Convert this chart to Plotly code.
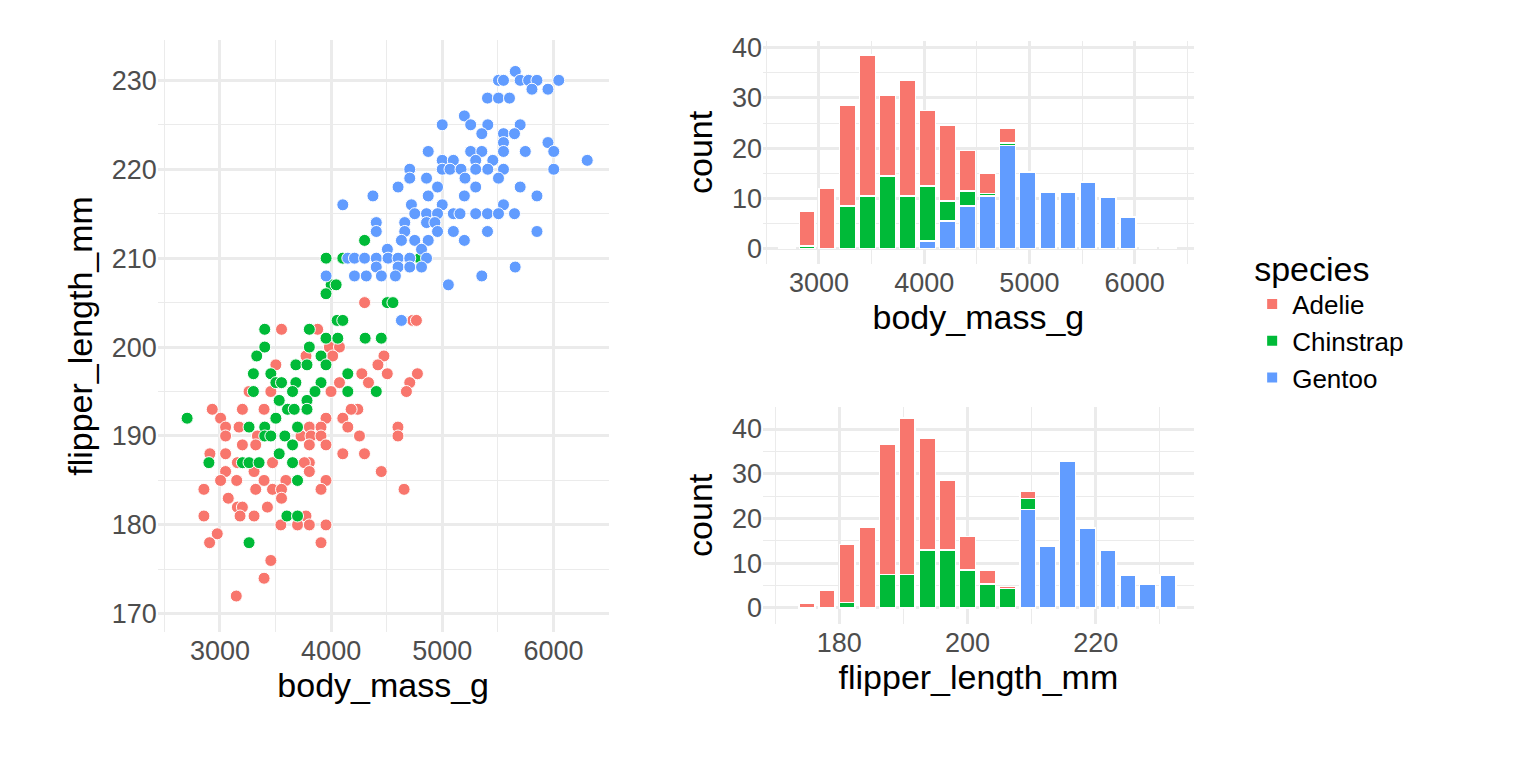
import plotly.graph_objects as go

# 颜色（ggplot 默认配色）
species = ["Adelie", "Chinstrap", "Gentoo"]
colors = {"Adelie": "#F8766D", "Chinstrap": "#00BA38", "Gentoo": "#619CFF"}

# 散点数据：体重 / 鳍长
adelie_mass = [4306, 4734, 3554, 3879, 3984, 4075, 4014, 3503, 3774, 4475, 4421, 4505, 4776, 4276, 4707, 4336,
               4075, 4677, 3999, 3262, 3458, 4240, 4180, 3954, 4105, 3202, 2931, 3006, 3397, 3051, 3172, 3804,
               3909, 4150, 4601, 4601, 4255, 3051, 3337, 3729, 3819, 3909, 3202, 3322, 3804, 3954, 2910, 3051,
               4105, 4300, 3157, 3473, 3804, 3759, 3051, 3307, 3804, 4451, 3006, 3151, 3397, 3593, 3954, 2856,
               3322, 3473, 3554, 3909, 4656, 3075, 3554, 3157, 3202, 3427, 2856, 3181, 3307, 3774, 3548, 3698,
               3804, 3954, 2976, 2907, 3909, 3458, 3397, 3147, 4301, 4767]
adelie_flip = [205, 203, 202, 202, 200, 200, 199, 198, 199, 199, 198, 197, 197, 197, 196, 196,
               196, 195, 195, 195, 195, 193, 193, 192, 192, 193, 193, 192, 193, 191, 191, 191,
               191, 191, 191, 190, 190, 190, 190, 190, 190, 190, 189, 189, 189, 189, 188, 188,
               188, 188, 187, 187, 187, 187, 186, 186, 186, 186, 185, 185, 185, 185, 185, 184,
               184, 184, 184, 184, 184, 183, 183, 182, 182, 182, 181, 181, 181, 181, 180, 180,
               180, 180, 179, 178, 178, 176, 174, 172, 205, 203]
chin_mass = [4000, 3954, 4505, 4556, 4054, 4105, 3403, 3804, 3954, 4060, 4306, 4451, 3403, 3804, 3331, 3909,
             3683, 3783, 3954, 3301, 3458, 4150, 3503, 3554, 3683, 3909, 3301, 3653, 3855, 4150, 4406, 3533,
             3783, 3608, 3668, 3783, 3503, 2705, 3262, 3403, 3698, 3403, 3458, 3584, 3653, 3533, 2901, 3202,
             3262, 3352, 3653, 3698, 3602, 3698, 3262, 4301, 3955, 4105, 4798, 4045]
chin_flip = [207, 206, 205, 205, 203, 203, 202, 202, 201, 201, 201, 201, 200, 200, 199, 199,
             198, 198, 198, 197, 197, 197, 196, 196, 196, 196, 195, 195, 195, 195, 195, 194,
             194, 193, 193, 193, 192, 192, 191, 191, 191, 190, 190, 190, 189, 188, 187, 187,
             187, 187, 187, 185, 181, 181, 178, 212, 210, 210, 210, 207]
gentoo_mass = [5656, 5505, 5550, 5700, 5776, 5851, 6047, 5806, 5950, 5406, 5505, 5604, 5198, 4999, 5255, 5409,
               5700, 5355, 5550, 5649, 5550, 5950, 4873, 5255, 5355, 5550, 5746, 6002, 6303, 4999, 5099, 5300,
               5454, 4707, 4999, 5069, 5168, 5300, 5409, 5550, 6002, 4707, 4858, 5204, 5505, 4602, 4957, 5300,
               5700, 4376, 4873, 5198, 5851, 4105, 4722, 4999, 5550, 4752, 4858, 4957, 5099, 5159, 5300, 5406,
               5505, 5649, 4406, 4662, 4858, 4933, 4406, 4662, 4957, 5099, 5406, 5851, 4632, 4752, 4873, 5198,
               4506, 4813, 4150, 4210, 4301, 4406, 4512, 4602, 4707, 4858, 4406, 4602, 4707, 4813, 5655, 3955,
               4210, 4316, 4452, 4578, 5355, 5054, 4632]
gentoo_flip = [231, 230, 230, 230, 230, 230, 230, 229, 229, 228, 228, 228, 226, 225, 225, 225,
               225, 224, 224, 224, 223, 223, 222, 222, 222, 222, 222, 222, 221, 221, 221, 221,
               221, 220, 220, 220, 220, 220, 220, 220, 220, 219, 219, 219, 219, 218, 218, 218,
               218, 217, 217, 217, 217, 216, 216, 216, 216, 215, 215, 215, 215, 215, 215, 215,
               215, 215, 214, 214, 214, 214, 213, 213, 213, 213, 213, 213, 212, 212, 212, 212,
               211, 211, 210, 210, 210, 210, 210, 210, 210, 210, 209, 209, 209, 209, 209, 208,
               208, 208, 208, 208, 208, 207, 203]

# 直方图：体重分箱中心与各物种计数
mass_bins = [2698, 2889, 3079, 3270, 3460, 3651, 3841, 4032, 4222, 4413,
             4603, 4794, 4984, 5175, 5365, 5556, 5746, 5937, 6127, 6318]
mass_counts = {
    "Gentoo":    [0, 0, 0, 0, 0, 0, 0, 1.5, 5.5, 8.5, 10.5, 20.5, 15.3, 11.3, 11.3, 13.3, 10.3, 6.3, 0.3, 0.3],
    "Chinstrap": [0.3, 0.5, 0, 8.5, 10.5, 14.5, 10.5, 11, 4, 3, 0.5, 0.5, 0, 0, 0, 0, 0, 0, 0, 0],
    "Adelie":    [0, 7, 12, 20, 28, 16, 23, 15, 15, 8, 4, 3, 0, 0, 0, 0, 0, 0, 0, 0],
}

# 直方图：鳍长分箱中心与各物种计数
flip_bins = [175, 178.1, 181.25, 184.4, 187.5, 190.6, 193.75, 196.9, 200, 203.1,
             206.25, 209.4, 212.5, 215.6, 218.75, 221.9, 225, 228.1, 231.25]
flip_counts = {
    "Gentoo":    [0, 0, 0, 0, 0, 0, 0, 0, 0, 0, 0, 22, 13.7, 32.7, 17.9, 12.8, 7.4, 5.4, 7.4],
    "Chinstrap": [0, 0, 1.2, 0, 7.5, 7.5, 13, 13, 8.5, 5.4, 4.3, 2.5, 0.4, 0, 0, 0, 0, 0, 0],
    "Adelie":    [1, 4, 13, 18, 29, 35, 25, 15.5, 7.5, 3, 0.5, 1.5, 0, 0, 0, 0, 0, 0, 0],
}

fig = go.Figure()

scatter_data = {
    "Adelie": (adelie_mass, adelie_flip),
    "Chinstrap": (chin_mass, chin_flip),
    "Gentoo": (gentoo_mass, gentoo_flip),
}
for sp in species:
    mx, fy = scatter_data[sp]
    fig.add_trace(go.Scatter(
        x=mx, y=fy, mode="markers", showlegend=False, legendgroup=sp,
        marker=dict(color=colors[sp], size=12, line=dict(color="white", width=1)),
        xaxis="x", yaxis="y"))

for sp in ["Gentoo", "Chinstrap", "Adelie"]:
    fig.add_trace(go.Bar(
        x=mass_bins, y=mass_counts[sp], name=sp, legendgroup=sp,
        marker=dict(color=colors[sp], line=dict(color="white", width=1.5)),
        xaxis="x2", yaxis="y2"))
    fig.add_trace(go.Bar(
        x=flip_bins, y=flip_counts[sp], name=sp, legendgroup=sp, showlegend=False,
        marker=dict(color=colors[sp], line=dict(color="white", width=1.5)),
        xaxis="x3", yaxis="y3"))

grid = "#EBEBEB"
tickf = dict(family="Liberation Sans, Arial", size=27, color="#4D4D4D")
titlef = dict(family="Liberation Sans, Arial", size=34, color="black")


def ax(domain, rng, dtick, title, anchor):
    return dict(domain=domain, range=rng, dtick=dtick, anchor=anchor,
                title=dict(text=title, font=titlef, standoff=8),
                tickfont=tickf, showgrid=True, gridcolor=grid, gridwidth=2.5,
                minor=dict(showgrid=True, dtick=dtick / 2, gridcolor=grid, gridwidth=1.2),
                zeroline=False, showline=False, ticks="")


fig.update_layout(
    width=1536, height=768,
    margin=dict(l=0, r=0, t=0, b=0),
    paper_bgcolor="white", plot_bgcolor="white",
    barmode="stack", bargap=0.2,
    xaxis=ax([0.0975, 0.391], [2441, 6495], 1000, "body_mass_g", "y"),
    yaxis=ax([0.19, 0.968], [168, 234.5], 10, "flipper_length_mm", "x"),
    xaxis2=ax([0.4915, 0.772], [2468, 6562], 1000, "body_mass_g", "y2"),
    yaxis2=ax([0.674, 0.967], [-3, 41.3], 10, "count", "x2"),
    xaxis3=ax([0.4915, 0.772], [168.1, 235.3], 20, "flipper_length_mm", "y3"),
    yaxis3=ax([0.2, 0.486], [-3.6, 45], 10, "count", "x3"),
    legend=dict(x=0.81, y=0.71, xanchor="left", yanchor="top",
                title=dict(text="species", font=titlef),
                font=dict(family="Liberation Sans, Arial", size=26, color="black"),
                traceorder="reversed", itemsizing="constant", tracegroupgap=10),
)

fig.write_html("out.html")
